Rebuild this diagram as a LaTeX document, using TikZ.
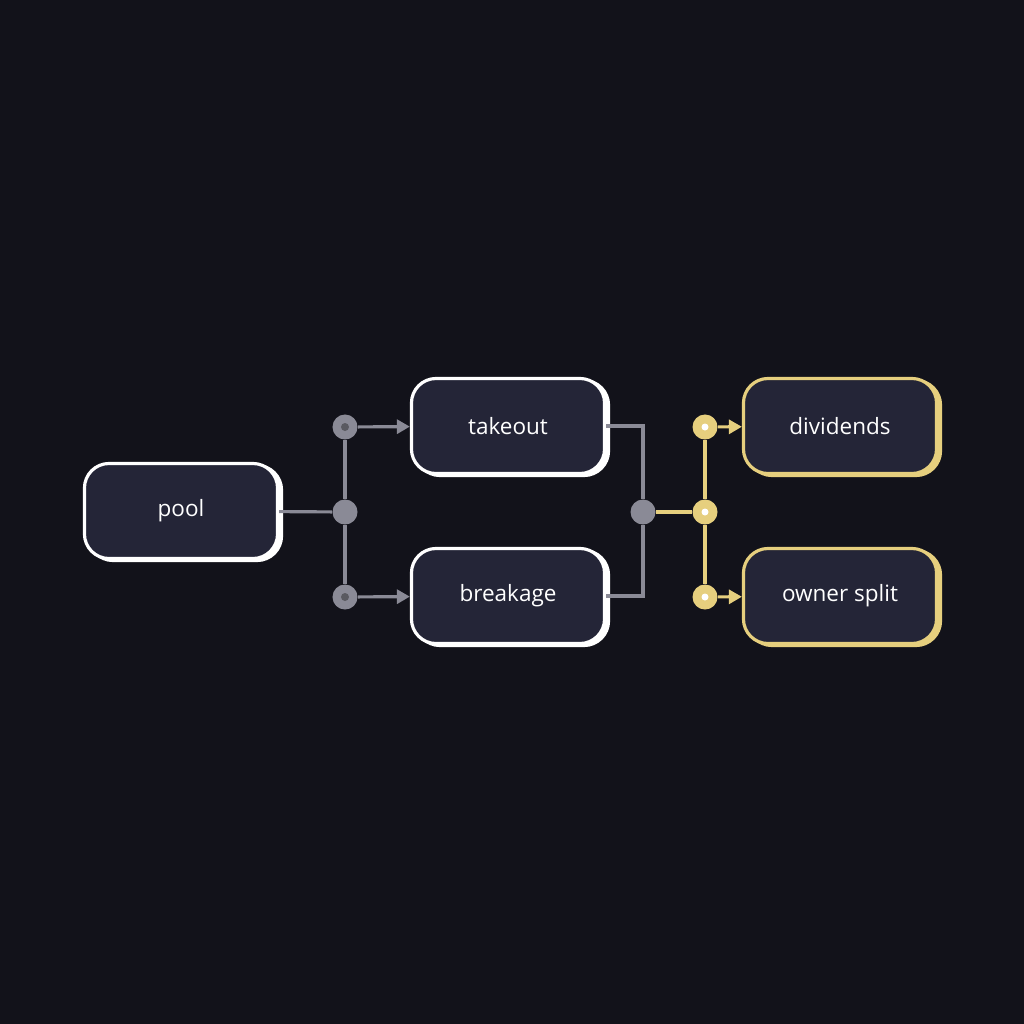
\documentclass[tikz,border=0pt]{standalone}
\usepackage{fontspec}
\setmainfont{Open Sans}
\usetikzlibrary{arrows.meta,shadows}
\definecolor{bg}{HTML}{12121A}
\definecolor{boxfill}{HTML}{242537}
\definecolor{wire}{HTML}{8A8A96}
\definecolor{gold}{HTML}{E6CF7E}
\begin{document}
\begin{tikzpicture}[x=0.01cm,y=-0.01cm,
    stage/.style ={rectangle, rounded corners=7pt, draw=white, line width=0.9pt, fill=boxfill,
      minimum width=1.93cm, minimum height=0.95cm, text=white, font=\fontsize{6.4}{8}\selectfont,
      copy shadow={shadow xshift=0.04cm, shadow yshift=-0.02cm, draw=white, fill=white}},
    payout/.style ={rectangle, rounded corners=7pt, draw=gold, line width=0.9pt, fill=boxfill,
      minimum width=1.93cm, minimum height=0.95cm, text=white, font=\fontsize{6.4}{8}\selectfont,
      copy shadow={shadow xshift=0.04cm, shadow yshift=-0.02cm, draw=gold, fill=gold}},
    joint/.style ={circle, fill=wire, inner sep=0pt, minimum size=0.25cm},
    gjoint/.style ={circle, fill=gold, inner sep=0pt, minimum size=0.25cm},
    wireline/.style ={wire, line width=0.9pt},
    goldline/.style ={gold, line width=0.9pt},
    tip/.style ={-{Triangle[length=0.13cm,width=0.14cm]}}]
   \useasboundingbox[fill=bg] (0,0) rectangle (1024,1024);

   \node[stage] (pool)  at (181,511)  {pool};
   \node[stage] (take)  at (508,426)  {takeout};
   \node[stage] (break) at (508,596)  {breakage};
   \node[payout] (div)  at (840,426)  {dividends};
   \node[payout] (own)  at (840,596)  {owner split};

   \node[joint] (sa) at (345,427) {};
   \node[joint] (sb) at (345,512) {};
   \node[joint] (sc) at (345,597) {};
   \node[joint] (mg) at (643,512) {};
   \node[gjoint] (ga) at (705,427) {};
   \node[gjoint] (gb) at (705,512) {};
   \node[gjoint] (gc) at (705,597) {};

   \draw[wireline] (pool) to (sb);
   \draw[wireline] (sa) to (sb);
   \draw[wireline] (sb) to (sc);
   \draw[wireline,tip] (sa) to (take);
   \draw[wireline,tip] (sc) to (break);
   \draw[wireline] (take.east) -| (mg);
   \draw[wireline] (break.east) -| (mg);
   \draw[goldline] (mg) to (gb);
   \draw[goldline] (ga) to (gb);
   \draw[goldline] (gb) to (gc);
   \draw[goldline,tip] (ga) to (div);
   \draw[goldline,tip] (gc) to (own);

   \foreach \d in {sa,sc} \fill[black!35!wire] (\d) circle (0.04cm);
   \foreach \d in {ga,gb,gc} \fill[white] (\d) circle (0.035cm);
 \end{tikzpicture}
\end{document}
